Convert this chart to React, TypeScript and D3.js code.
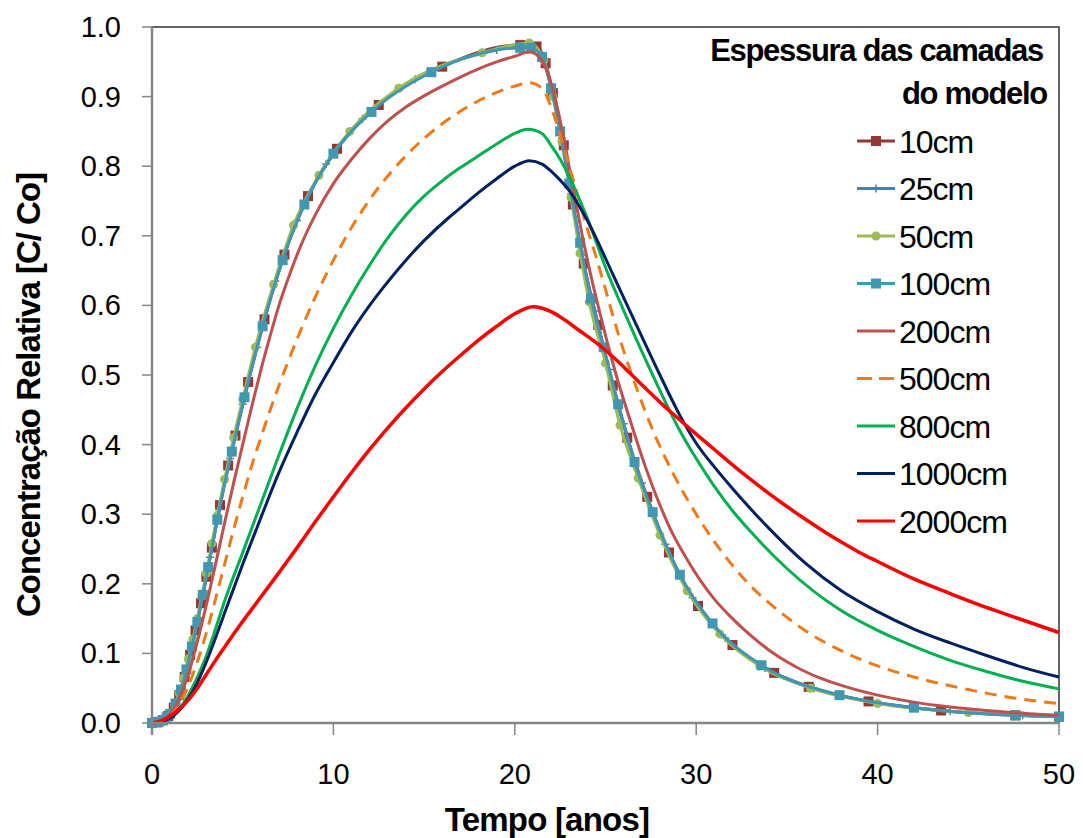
import React from 'react';
import * as d3 from 'd3';

// x ticks / y ticks
const xTicks = [0, 10, 20, 30, 40, 50];
const yTicks = [0, 0.1, 0.2, 0.3, 0.4, 0.5, 0.6, 0.7, 0.8, 0.9, 1.0];

// 10cm
const t10 = [0, 0.3, 0.6, 0.9, 1.2, 1.5, 1.8, 2.1, 2.4, 2.7, 3.0, 3.3, 3.75, 4.2, 4.6, 5.3, 6.2, 7.3, 8.6, 10.2, 12.5, 16.0, 20.3, 21.2, 21.7, 22.1, 22.7, 23.2, 23.8, 24.6, 25.4, 26.2, 27.3, 28.5, 30.1, 32.0, 34.3, 36.2, 39.5, 43.5, 47.6, 50];
const c10 = [0, 0.001, 0.004, 0.01, 0.022, 0.04, 0.066, 0.098, 0.133, 0.172, 0.21, 0.252, 0.313, 0.37, 0.413, 0.49, 0.58, 0.673, 0.757, 0.825, 0.888, 0.943, 0.974, 0.972, 0.948, 0.905, 0.83, 0.745, 0.66, 0.572, 0.485, 0.41, 0.325, 0.245, 0.168, 0.112, 0.072, 0.052, 0.031, 0.018, 0.011, 0.009];

// 25cm
const t25 = [0, 0.35, 0.7, 1.05, 1.4, 1.75, 2.1, 2.45, 2.8, 3.2, 3.7, 4.3, 5.0, 5.8, 6.8, 8.0, 9.6, 11.6, 14.5, 19.0, 20.8, 21.5, 22.0, 22.6, 23.1, 23.7, 24.4, 25.2, 26.0, 27.0, 28.3, 29.8, 31.6, 33.8, 36.5, 40, 44, 48, 50];
const c25 = [0, 0.002, 0.005, 0.015, 0.033, 0.062, 0.098, 0.139, 0.184, 0.238, 0.307, 0.38, 0.458, 0.54, 0.635, 0.722, 0.803, 0.868, 0.925, 0.967, 0.975, 0.96, 0.915, 0.84, 0.76, 0.672, 0.592, 0.508, 0.43, 0.345, 0.257, 0.18, 0.122, 0.079, 0.05, 0.029, 0.017, 0.011, 0.009];

// 50cm
const t50 = [0, 0.25, 0.5, 0.75, 1.0, 1.25, 1.5, 1.75, 2.0, 2.25, 2.5, 2.75, 3.0, 3.3, 3.6, 4.0, 4.5, 5.0, 5.7, 6.7, 7.8, 9.2, 10.9, 13.6, 18.2, 20.8, 21.6, 22.1, 22.6, 23.1, 23.6, 24.1, 25.0, 25.8, 26.8, 28.0, 29.5, 31.3, 33.5, 36.3, 40.0, 45, 50];
const c50 = [0, 0.001, 0.003, 0.007, 0.014, 0.026, 0.043, 0.065, 0.092, 0.12, 0.15, 0.183, 0.215, 0.258, 0.298, 0.35, 0.41, 0.465, 0.54, 0.63, 0.715, 0.787, 0.85, 0.912, 0.963, 0.977, 0.952, 0.9, 0.835, 0.755, 0.675, 0.605, 0.517, 0.428, 0.352, 0.27, 0.19, 0.128, 0.082, 0.05, 0.028, 0.015, 0.009];

// 100cm
const t100 = [0, 0.2, 0.4, 0.6, 0.8, 1.0, 1.3, 1.6, 1.9, 2.2, 2.5, 2.8, 3.1, 3.6, 4.4, 5.1, 6.1, 7.2, 8.4, 10.0, 12.1, 15.4, 20.3, 20.9, 21.5, 22.0, 22.5, 23.0, 23.6, 24.2, 24.9, 25.7, 26.6, 27.6, 29.1, 30.9, 33.6, 37.9, 42, 47.6, 50];
const c100 = [0, 0.001, 0.002, 0.004, 0.008, 0.013, 0.028, 0.048, 0.077, 0.11, 0.145, 0.184, 0.224, 0.292, 0.39, 0.468, 0.57, 0.665, 0.745, 0.818, 0.878, 0.935, 0.97, 0.97, 0.957, 0.912, 0.85, 0.775, 0.69, 0.61, 0.54, 0.458, 0.375, 0.303, 0.213, 0.143, 0.083, 0.04, 0.022, 0.011, 0.009];

// 200cm
const t200 = [0, 0.5, 1, 1.5, 2, 2.5, 3, 3.5, 4, 4.5, 5, 5.5, 6, 6.5, 7, 7.5, 8, 9, 10, 11, 12, 13, 14, 15, 16, 17, 18, 19, 20, 20.8, 21.3, 21.8, 22.2, 22.7, 23.2, 23.7, 24.2, 24.7, 25.2, 25.7, 26.2, 26.7, 27.2, 28, 28.7, 29.5, 30.2, 31, 32, 33, 34, 35, 36, 37, 38, 40, 42, 44, 46, 48, 50];
const c200 = [0, 0.003, 0.012, 0.035, 0.07, 0.117, 0.17, 0.228, 0.287, 0.345, 0.4, 0.455, 0.507, 0.555, 0.6, 0.638, 0.673, 0.73, 0.775, 0.81, 0.84, 0.865, 0.885, 0.901, 0.915, 0.928, 0.94, 0.95, 0.958, 0.964, 0.958, 0.935, 0.9, 0.84, 0.77, 0.703, 0.642, 0.588, 0.537, 0.49, 0.448, 0.407, 0.368, 0.313, 0.272, 0.235, 0.206, 0.178, 0.15, 0.126, 0.105, 0.088, 0.074, 0.063, 0.054, 0.04, 0.03, 0.023, 0.018, 0.014, 0.011];

// 500cm
const t500 = [0, 0.5, 1, 1.5, 2, 2.5, 3, 3.5, 4, 4.5, 5, 5.5, 6, 7, 8, 9, 10, 11, 12, 13, 14, 15, 16, 17, 18, 19, 20, 20.8, 21.5, 22, 22.5, 23, 23.5, 24, 24.5, 24.9, 25.6, 26.7, 27.7, 28.7, 30, 31.1, 33, 34.6, 36.8, 37.9, 40, 42, 45, 47.5, 50];
const c500 = [0, 0.002, 0.01, 0.027, 0.053, 0.088, 0.13, 0.178, 0.228, 0.278, 0.325, 0.37, 0.41, 0.485, 0.552, 0.612, 0.665, 0.712, 0.752, 0.786, 0.815, 0.84, 0.861, 0.879, 0.894, 0.906, 0.915, 0.92, 0.912, 0.885, 0.845, 0.8, 0.755, 0.71, 0.668, 0.632, 0.568, 0.482, 0.415, 0.36, 0.3, 0.257, 0.197, 0.16, 0.12, 0.105, 0.082, 0.066, 0.048, 0.036, 0.028];

// 800cm
const t800 = [0, 0.5, 1, 1.5, 2, 2.5, 3, 3.5, 4, 5, 6, 7, 8, 9, 10, 11, 12, 13, 14, 15, 16, 17, 18, 19, 20, 20.7, 21.5, 22, 22.5, 23, 24, 25.1, 26.3, 27.6, 29.1, 30, 31, 32, 33, 35, 37.9, 40, 42, 44, 46, 48, 50];
const c800 = [0, 0.002, 0.008, 0.02, 0.04, 0.066, 0.097, 0.135, 0.175, 0.245, 0.315, 0.385, 0.452, 0.513, 0.567, 0.615, 0.658, 0.697, 0.73, 0.757, 0.779, 0.798, 0.815, 0.832, 0.847, 0.853, 0.847, 0.83, 0.81, 0.785, 0.725, 0.648, 0.575, 0.5, 0.42, 0.38, 0.34, 0.305, 0.275, 0.222, 0.163, 0.133, 0.11, 0.09, 0.074, 0.06, 0.049];

// 1000cm
const t1000 = [0, 0.5, 1, 1.5, 2, 2.5, 3, 3.5, 4, 5, 6, 7, 8, 8.9, 10, 11, 12, 12.7, 14, 15, 16.4, 17, 18, 19, 20, 20.8, 21.5, 22, 22.5, 23, 23.5, 24, 25.4, 26.7, 28, 29.1, 30, 31, 32, 34, 36, 38, 40, 42, 44, 46, 48, 50];
const c1000 = [0, 0.002, 0.007, 0.018, 0.035, 0.058, 0.088, 0.122, 0.158, 0.228, 0.295, 0.36, 0.418, 0.467, 0.518, 0.562, 0.6, 0.624, 0.665, 0.693, 0.727, 0.74, 0.762, 0.782, 0.8, 0.808, 0.803, 0.793, 0.78, 0.765, 0.745, 0.722, 0.645, 0.572, 0.5, 0.442, 0.402, 0.368, 0.337, 0.28, 0.23, 0.19, 0.16, 0.135, 0.115, 0.097, 0.08, 0.066];

// 2000cm
const t2000 = [0, 0.5, 1, 1.5, 2, 2.5, 3, 3.5, 4, 4.5, 5, 6, 7, 8, 9, 10, 11, 12, 13, 14, 15, 16, 17, 18, 19, 20, 21, 22, 22.7, 23.5, 24.5, 25.5, 26.3, 27, 28, 28.9, 30, 31, 32, 33, 34, 35, 36, 37, 38, 39, 40, 42, 44, 46, 48, 50];
const c2000 = [0, 0.003, 0.01, 0.02, 0.033, 0.05, 0.07, 0.09, 0.109, 0.128, 0.146, 0.181, 0.216, 0.252, 0.289, 0.325, 0.36, 0.393, 0.424, 0.453, 0.48, 0.505, 0.528, 0.55, 0.57, 0.588, 0.598, 0.591, 0.58, 0.565, 0.546, 0.524, 0.504, 0.486, 0.461, 0.44, 0.415, 0.393, 0.371, 0.35, 0.33, 0.311, 0.293, 0.276, 0.26, 0.245, 0.232, 0.207, 0.186, 0.166, 0.148, 0.13];

const names = ['10cm', '25cm', '50cm', '100cm', '200cm', '500cm', '800cm', '1000cm', '2000cm'];
const colors = ['#953735', '#4A7EBB', '#9BBB59', '#4197B0', '#C0504D', '#F07A1A', '#00B050', '#002060', '#FF0000'];
const markers = ['square', 'plus', 'circle', 'square', 'none', 'none', 'none', 'none', 'none'];
const times = [t10, t25, t50, t100, t200, t500, t800, t1000, t2000];
const values = [c10, c25, c50, c100, c200, c500, c800, c1000, c2000];

const font = '"Liberation Sans", Arial, sans-serif';

function Marker({ kind, x, y, color }: { kind: string; x: number; y: number; color: string }) {
  if (kind === 'square') return <rect x={x - 5} y={y - 5} width={10} height={10} fill={color} />;
  if (kind === 'circle') return <circle cx={x} cy={y} r={4.5} fill={color} />;
  if (kind === 'plus')
    return <path d={`M${x - 4},${y}H${x + 4}M${x},${y - 4}V${y + 4}`} stroke={color} strokeWidth={1.5} />;
  return null;
}

export default function App() {
  const W = 1083;
  const H = 838;
  const x = d3.scaleLinear().domain([0, 50]).range([152, 1059]);
  const y = d3.scaleLinear().domain([0, 1]).range([723, 27]);

  const line = d3
    .line<[number, number]>()
    .x((d) => x(d[0]))
    .y((d) => y(d[1]))
    .curve(d3.curveMonotoneX);

  const series = names.map((name, i) => ({
    name,
    color: colors[i],
    marker: markers[i],
    pts: times[i].map((t, j) => [t, values[i][j]] as [number, number]),
  }));

  const legendY0 = 141;
  const legendStep = 47.5;

  return (
    <svg width={W} height={H} style={{ position: 'absolute', left: 0, top: 0, background: '#fff' }}>
      {/* frame top/right */}
      <path d={`M${x(0)},${y(1)}H${x(50)}V${y(0)}`} fill="none" stroke="#333" strokeWidth={1.5} />

      {/* series */}
      {series.map((s) => (
        <g key={s.name}>
          <path
            d={line(s.pts) || ''}
            fill="none"
            stroke={s.color}
            strokeWidth={s.name === '2000cm' ? 3.5 : 3}
            strokeDasharray={s.name === '500cm' ? '12 8' : undefined}
          />
          {s.marker !== 'none' &&
            s.pts.map((p, j) => <Marker key={j} kind={s.marker} x={x(p[0])} y={y(p[1])} color={s.color} />)}
        </g>
      ))}

      {/* axes */}
      <line x1={x(0)} x2={x(0)} y1={y(1)} y2={y(0) + 12} stroke="#868686" strokeWidth={2.5} />
      <line x1={x(0)} x2={x(50)} y1={y(0)} y2={y(0)} stroke="#868686" strokeWidth={2.5} />
      {yTicks.map((v) => (
        <g key={v}>
          <line x1={x(0) - 10} x2={x(0)} y1={y(v)} y2={y(v)} stroke="#868686" strokeWidth={1.5} />
          <text x={121} y={y(v) + 10} textAnchor="end" fontFamily={font} fontSize={29} fill="#000">
            {d3.format('.1f')(v)}
          </text>
        </g>
      ))}
      {xTicks.map((v) => (
        <g key={v}>
          <line x1={x(v)} x2={x(v)} y1={y(0)} y2={y(0) + 12} stroke="#868686" strokeWidth={1.5} />
          <text x={x(v)} y={784} textAnchor="middle" fontFamily={font} fontSize={29} fill="#000">
            {v}
          </text>
        </g>
      ))}

      {/* axis titles */}
      <text x={547} y={831} textAnchor="middle" fontFamily={font} fontSize={33} fontWeight="bold" letterSpacing={-0.8}>
        Tempo [anos]
      </text>
      <text
        transform={`translate(40,395) rotate(-90)`}
        textAnchor="middle"
        fontFamily={font}
        fontSize={33}
        fontWeight="bold"
        letterSpacing={-1}
      >
        Concentração Relativa [C/ Co]
      </text>

      {/* legend */}
      <text x={1043} y={61} textAnchor="end" fontFamily={font} fontSize={31} fontWeight="bold" letterSpacing={-1.3}>
        Espessura das camadas
      </text>
      <text x={1047} y={104} textAnchor="end" fontFamily={font} fontSize={31} fontWeight="bold" letterSpacing={-1.3}>
        do modelo
      </text>
      {series.map((s, i) => {
        const ly = legendY0 + i * legendStep;
        return (
          <g key={s.name}>
            {s.name === '500cm' ? (
              <path d={`M857,${ly}H872M879,${ly}H894`} stroke={s.color} strokeWidth={3} />
            ) : (
              <line x1={857} x2={895} y1={ly} y2={ly} stroke={s.color} strokeWidth={3} />
            )}
            <Marker kind={s.marker} x={876} y={ly} color={s.color} />
            <text x={899} y={ly + 11.5} fontFamily={font} fontSize={32} letterSpacing={-1} fill="#000">
              {s.name}
            </text>
          </g>
        );
      })}
    </svg>
  );
}
